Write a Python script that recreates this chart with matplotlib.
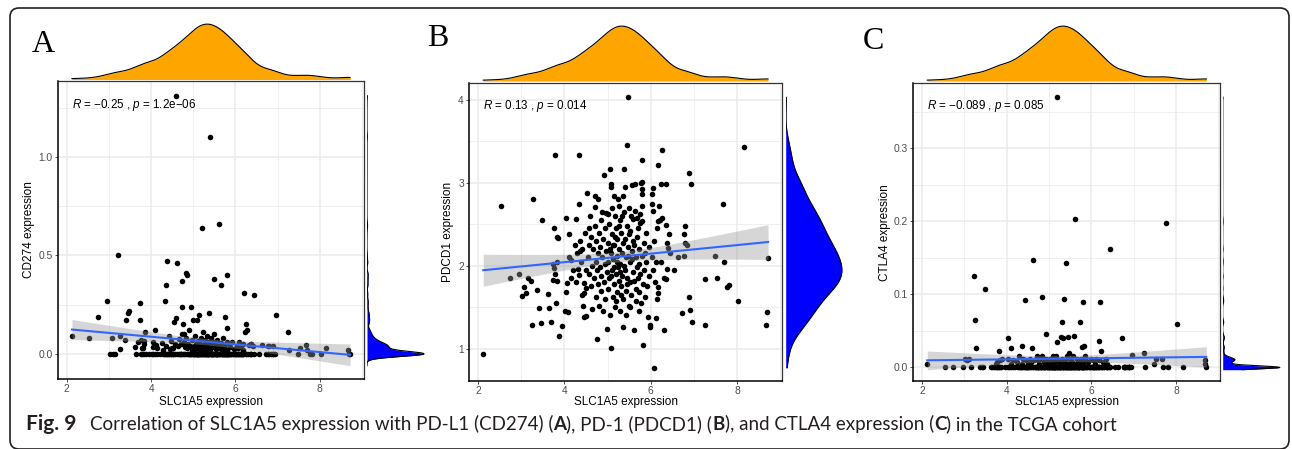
import numpy as np
import matplotlib.pyplot as plt
from matplotlib.patches import FancyBboxPatch

plt.rcParams['font.family'] = 'Liberation Sans'
plt.rcParams['mathtext.fontset'] = 'custom'
plt.rcParams['mathtext.it'] = 'Liberation Sans:italic'
plt.rcParams['mathtext.rm'] = 'Liberation Sans'

W, H = 1292, 449

# SLC1A5 expression (shared x for the three panels)
slc1a5 = [
    2.12, 2.53, 2.74, 2.96, 3.02, 3.06, 3.10, 3.15, 3.22, 3.25,
    3.27, 3.37, 3.41, 3.45, 3.48, 3.62, 3.65, 3.69, 3.73, 3.74,
    3.77, 3.77, 3.78, 3.79, 3.81, 3.82, 3.83, 3.84, 3.86, 3.88,
    3.95, 4.02, 4.04, 4.05, 4.04, 4.09, 4.10, 4.11, 4.15, 4.15,
    4.20, 4.25, 4.27, 4.28, 4.30, 4.32, 4.34, 4.35, 4.35, 4.36,
    4.37, 4.38, 4.40, 4.42, 4.43, 4.45, 4.46, 4.46, 4.48, 4.49,
    4.51, 4.51, 4.53, 4.55, 4.56, 4.57, 4.58, 4.59, 4.61, 4.62,
    4.63, 4.65, 4.66, 4.68, 4.70, 4.71, 4.72, 4.73, 4.74, 4.74,
    4.75, 4.76, 4.77, 4.78, 4.79, 4.80, 4.81, 4.82, 4.83, 4.84,
    4.85, 4.86, 4.87, 4.88, 4.89, 4.90, 4.91, 4.92, 4.93, 4.94,
    4.95, 4.96, 4.97, 4.98, 4.99, 5.00, 5.01, 5.02, 5.03, 5.04,
    5.05, 5.06, 5.07, 5.08, 5.09, 5.09, 5.10, 5.11, 5.12, 5.13,
    5.14, 5.15, 5.16, 5.17, 5.18, 5.19, 5.20, 5.21, 5.22, 5.23,
    5.24, 5.25, 5.26, 5.27, 5.28, 5.29, 5.30, 5.31, 5.32, 5.33,
    5.34, 5.35, 5.35, 5.36, 5.37, 5.38, 5.39, 5.40, 5.41, 5.42,
    5.43, 5.44, 5.45, 5.46, 5.47, 5.48, 5.49, 5.02, 5.05, 5.08,
    5.11, 5.14, 5.17, 5.20, 5.23, 5.26, 5.29, 5.32, 5.34, 5.38,
    5.41, 5.44, 5.47, 5.49, 5.12, 5.27, 5.43, 5.50, 5.51, 5.52,
    5.53, 5.54, 5.55, 5.56, 5.57, 5.58, 5.59, 5.60, 5.61, 5.62,
    5.63, 5.64, 5.65, 5.66, 5.67, 5.68, 5.69, 5.70, 5.71, 5.72,
    5.73, 5.74, 5.75, 5.76, 5.76, 5.77, 5.78, 5.79, 5.80, 5.80,
    5.81, 5.81, 5.81, 5.81, 5.82, 5.83, 5.84, 5.85, 5.87, 5.88,
    5.90, 5.92, 5.94, 5.95, 5.97, 5.99, 5.99, 5.56, 5.62, 5.68,
    5.72, 5.86, 5.53, 6.02, 6.03, 6.03, 6.05, 6.06, 6.06, 6.08,
    6.08, 6.10, 6.12, 6.12, 6.14, 6.15, 6.17, 6.18, 6.18, 6.18,
    6.20, 6.22, 6.24, 6.25, 6.26, 6.27, 6.30, 6.31, 6.35, 6.36,
    6.36, 6.37, 6.38, 6.41, 6.43, 6.45, 6.55, 6.64, 6.72, 6.78,
    6.78, 6.80, 6.80, 6.84, 6.88, 6.89, 6.90, 6.93, 6.96, 7.25,
    7.26, 7.48, 7.54, 7.67, 7.69, 7.77, 7.82, 8.02, 8.16, 8.68,
    8.70, 8.72,
]

# PDCD1 expression (panel B)
pdcd1 = [
    0.93, 2.72, 1.85, 1.90, 1.63, 1.74, 1.67, 1.85, 1.81, 1.28,
    2.81, 1.71, 1.49, 1.31, 2.55, 1.66, 1.49, 1.32, 2.02, 1.83,
    1.97, 2.46, 1.90, 3.33, 1.55, 1.82, 2.35, 2.04, 2.33, 1.15,
    1.27, 1.45, 1.68, 1.79, 2.57, 1.44, 2.38, 2.11, 2.07, 1.85,
    1.95, 2.25, 2.56, 1.80, 2.15, 1.96, 1.89, 3.34, 2.74, 2.18,
    2.30, 2.05, 1.65, 2.20, 1.51, 1.79, 1.67, 1.38, 2.40, 1.95,
    1.73, 1.39, 2.88, 2.10, 2.45, 1.90, 2.25, 2.60, 2.35, 1.75,
    2.00, 1.48, 2.20, 1.85, 2.84, 2.48, 2.71, 1.62, 2.05, 2.30,
    1.12, 1.95, 2.15, 1.78, 2.80, 1.52, 2.40, 1.98, 2.22, 1.70,
    2.55, 1.88, 2.10, 2.65, 1.45, 2.32, 3.09, 1.80, 2.02, 2.45,
    1.60, 2.18, 2.64, 1.24, 1.92, 2.28, 1.72, 2.05, 2.50, 1.85,
    1.40, 3.17, 1.01, 2.15, 2.98, 2.95, 1.95, 2.38, 1.62, 2.08,
    2.84, 1.78, 2.25, 1.50, 2.60, 1.90, 2.45, 2.12, 1.68, 2.32,
    1.98, 2.81, 1.82, 2.20, 1.45, 2.55, 2.02, 1.75, 2.40, 1.88,
    2.15, 2.84, 1.26, 2.28, 1.60, 2.65, 3.17, 2.95, 1.95, 2.10,
    1.70, 2.48, 1.85, 3.46, 4.03, 2.22, 1.52, 2.62, 2.20, 1.88,
    2.70, 1.98, 2.35, 1.58, 2.05, 2.48, 1.92, 1.65, 2.60, 2.00,
    2.32, 1.78, 2.12, 2.70, 2.25, 2.72, 1.40, 2.38, 1.80, 2.05,
    2.42, 1.65, 2.60, 2.97, 2.18, 1.92, 2.30, 2.56, 2.25, 1.22,
    2.98, 2.66, 1.72, 2.10, 1.58, 2.35, 1.98, 1.85, 2.45, 2.02,
    1.68, 2.20, 1.90, 2.62, 2.52, 3.00, 1.55, 2.12, 2.92, 2.87,
    3.27, 2.72, 2.54, 3.01, 1.78, 1.04, 2.28, 1.95, 1.62, 2.40,
    2.05, 1.75, 1.38, 2.22, 1.88, 1.26, 1.28, 2.08, 1.82, 2.58,
    1.45, 2.15, 1.50, 2.10, 2.87, 2.75, 1.95, 2.94, 2.66, 0.77,
    2.30, 1.80, 1.37, 2.05, 2.45, 1.60, 3.22, 2.54, 1.74, 1.67,
    2.72, 2.55, 2.99, 2.05, 3.39, 2.58, 1.85, 1.23, 1.84, 2.49,
    2.99, 2.27, 1.96, 2.21, 2.38, 2.15, 1.95, 2.11, 1.43, 2.12,
    2.38, 2.27, 2.48, 2.25, 1.62, 3.12, 1.47, 2.99, 1.32, 1.29,
    1.84, 2.12, 1.85, 2.75, 2.04, 1.74, 1.77, 1.57, 3.43, 1.28,
    1.44, 2.09,
]

# CD274 expression (panel A)
cd274 = [
    0.09, 0.08, 0.19, 0.27, 0.0, 0.08, 0.0, 0.0, 0.50, 0.025,
    0.09, 0.07, 0.17, 0.21, 0.22, 0.037, 0.0, 0.062, 0.26, 0.17,
    0.07, 0.0, 0.029, 0.0, 0.029, 0.067, 0.05, 0.0, 0.11, 0.0,
    0.0, 0.0, 0.035, 0.0, 0.06, 0.12, 0.0, 0.045, 0.0, 0.03,
    0.0, 0.055, 0.0, 0.02, 0.0, 0.27, 0.0, 0.04, 0.0, 0.35,
    0.0, 0.47, 0.0, 0.09, 0.0, 0.025, 0.0, 0.065, 0.0, 0.03,
    0.0, 0.03, 0.0, 0.16, 0.0, 0.05, 0.18, 1.31, 0.46, 0.0,
    0.04, 0.0, 0.075, 0.0, 0.0, 0.05, 0.0, 0.10, 0.37, 0.24,
    0.15, 0.0, 0.06, 0.10, 0.0, 0.035, 0.0, 0.08, 0.41, 0.0,
    0.03, 0.40, 0.0, 0.05, 0.0, 0.12, 0.0, 0.04, 0.0, 0.24,
    0.0, 0.07, 0.0, 0.02, 0.0, 0.17, 0.0, 0.04, 0.0, 0.09,
    0.0, 0.05, 0.0, 0.17, 0.0, 0.03, 0.0, 0.065, 0.0, 0.20,
    0.0, 0.045, 0.0, 0.02, 0.0, 0.08, 0.64, 0.0, 0.035, 0.0,
    0.11, 0.0, 0.05, 0.0, 0.07, 0.0, 0.03, 0.0, 0.09, 0.0,
    0.04, 0.0, 0.0, 0.06, 0.21, 0.0, 0.02, 1.10, 0.0, 0.08,
    0.0, 0.035, 0.0, 0.05, 0.0, 0.10, 0.0, 0.0, 0.025, 0.0,
    0.0, 0.055, 0.0, 0.0, 0.04, 0.0, 0.0, 0.025, 0.0, 0.0,
    0.045, 0.0, 0.0, 0.06, 0.0, 0.02, 0.0, 0.38, 0.0, 0.05,
    0.0, 0.025, 0.0, 0.0, 0.07, 0.0, 0.04, 0.0, 0.66, 0.0,
    0.03, 0.0, 0.055, 0.35, 0.0, 0.02, 0.0, 0.08, 0.0, 0.0,
    0.045, 0.0, 0.19, 0.0, 0.03, 0.0, 0.0, 0.06, 0.0, 0.0,
    0.40, 0.13, 0.0, 0.02, 0.0, 0.0, 0.05, 0.0, 0.0, 0.035,
    0.0, 0.06, 0.0, 0.0, 0.025, 0.0, 0.0, 0.0, 0.04, 0.0,
    0.0, 0.0, 0.0, 0.0, 0.04, 0.0, 0.0, 0.03, 0.0, 0.0,
    0.06, 0.0, 0.0, 0.035, 0.0, 0.0, 0.02, 0.0, 0.05, 0.0,
    0.31, 0.11, 0.0, 0.0, 0.15, 0.12, 0.0, 0.045, 0.0, 0.05,
    0.0, 0.05, 0.0, 0.04, 0.30, 0.0, 0.0, 0.045, 0.0, 0.04,
    0.0, 0.04, 0.0, 0.0, 0.04, 0.0, 0.0, 0.0, 0.20, 0.11,
    0.02, 0.0, 0.03, 0.045, 0.02, 0.0, 0.0, 0.0, 0.03, 0.02,
    0.0, 0.0,
]

# CTLA4 expression (panel C)
ctla4 = [
    0.005, 0.0, 0.0, 0.0, 0.012, 0.010, 0.012, 0.0, 0.125, 0.065,
    0.027, 0.0, 0.0, 0.0, 0.108, 0.0, 0.0, 0.0, 0.0, 0.005,
    0.0, 0.0, 0.008, 0.0, 0.022, 0.0, 0.010, 0.0, 0.0, 0.012,
    0.0, 0.012, 0.040, 0.0, 0.0, 0.005, 0.027, 0.0, 0.010, 0.0,
    0.0, 0.008, 0.0, 0.0, 0.015, 0.0, 0.0, 0.0, 0.005, 0.0,
    0.030, 0.012, 0.0, 0.0, 0.092, 0.0, 0.0, 0.010, 0.0, 0.0,
    0.0, 0.005, 0.0, 0.012, 0.0, 0.0, 0.008, 0.026, 0.147, 0.0,
    0.0, 0.010, 0.0, 0.0, 0.0, 0.015, 0.0, 0.0, 0.010, 0.0,
    0.0, 0.005, 0.0, 0.0, 0.012, 0.0, 0.0, 0.0, 0.015, 0.096,
    0.0, 0.0, 0.008, 0.0, 0.0, 0.0, 0.0, 0.012, 0.046, 0.0,
    0.0, 0.005, 0.0, 0.0, 0.010, 0.0, 0.0, 0.012, 0.0, 0.0,
    0.005, 0.0, 0.0, 0.010, 0.0, 0.0, 0.015, 0.0, 0.0, 0.008,
    0.0, 0.0, 0.012, 0.0, 0.0, 0.035, 0.370, 0.0, 0.0, 0.010,
    0.0, 0.0, 0.005, 0.0, 0.041, 0.0, 0.012, 0.062, 0.0, 0.0,
    0.040, 0.0, 0.008, 0.094, 0.0, 0.010, 0.0, 0.143, 0.0, 0.015,
    0.0, 0.0, 0.005, 0.042, 0.0, 0.0, 0.012, 0.0, 0.0, 0.010,
    0.0, 0.0, 0.015, 0.0, 0.0, 0.008, 0.0, 0.0, 0.0, 0.010,
    0.0, 0.0, 0.020, 0.0, 0.0, 0.0, 0.0, 0.0, 0.010, 0.0,
    0.0, 0.008, 0.0, 0.0, 0.015, 0.043, 0.0, 0.0, 0.203, 0.0,
    0.005, 0.0, 0.0, 0.012, 0.0, 0.0, 0.010, 0.0, 0.0, 0.0,
    0.005, 0.062, 0.0, 0.0, 0.012, 0.0, 0.0, 0.028, 0.0, 0.0,
    0.090, 0.0, 0.005, 0.0, 0.030, 0.0, 0.0, 0.010, 0.0, 0.0,
    0.0, 0.008, 0.0, 0.0, 0.0, 0.0, 0.012, 0.0, 0.0, 0.0,
    0.0, 0.015, 0.0, 0.0, 0.0, 0.010, 0.0, 0.0, 0.0, 0.005,
    0.0, 0.0, 0.012, 0.0, 0.0, 0.0, 0.036, 0.0, 0.0, 0.010,
    0.089, 0.023, 0.0, 0.0, 0.0, 0.008, 0.0, 0.0, 0.012, 0.0,
    0.0, 0.0, 0.005, 0.0, 0.162, 0.0, 0.0, 0.0, 0.040, 0.0,
    0.0, 0.0, 0.0, 0.0, 0.0, 0.0, 0.0, 0.0, 0.017, 0.020,
    0.0, 0.005, 0.012, 0.012, 0.0, 0.198, 0.0, 0.060, 0.0, 0.010,
    0.005, 0.0,
]

assert len(slc1a5) == len(pdcd1) == len(cd274) == len(ctla4)

x = np.array(slc1a5)


def kde(v, grid):
    # gaussian density with R's bw.nrd0 like ggplot's geom_density
    v = np.asarray(v)
    n = len(v)
    sd = v.std(ddof=1)
    iqr = np.subtract(*np.percentile(v, [75, 25]))
    lo = min(sd, iqr / 1.34) if iqr > 0 else sd
    bw = 0.9 * lo * n ** -0.2
    z = (grid[:, None] - v[None, :]) / bw
    return np.exp(-0.5 * z ** 2).sum(1) / (n * bw * np.sqrt(2 * np.pi))


def rect(l, t, r, b):
    return [l / W, 1 - b / H, (r - l) / W, (b - t) / H]


fig = plt.figure(figsize=(W / 100, H / 100), dpi=100)

bg = fig.add_axes([0, 0, 1, 1], zorder=-1)
bg.set_xlim(0, W)
bg.set_ylim(H, 0)
bg.axis('off')
bg.add_patch(FancyBboxPatch((10, 8), 1279, 441, boxstyle='round,pad=0,rounding_size=9',
                            fc='white', ec='#231f20', lw=1.2))

panels = [
    dict(y=cd274, ylab='CD274 expression', letter='A', letter_xy=(32, 51.5),
         stat=r'$R$ = −0.25 , $p$ = 1.2e−06',
         box=(58, 81, 364, 379), top=(23, 79.5), right=(367, 425),
         ylim=(-0.127, 1.385), yt=[0, 0.5, 1.0], ym=[0.25, 0.75, 1.25],
         ylabs=['0.0', '0.5', '1.0'], ylab_x=29),
    dict(y=pdcd1, ylab='PDCD1 expression', letter='B', letter_xy=(427, 45.5),
         stat=r'$R$ = 0.13 , $p$ = 0.014',
         box=(469, 83.3, 782.3, 381), top=(25, 81), right=(785.7, 843),
         ylim=(0.61, 4.20), yt=[1, 2, 3, 4], ym=[1.5, 2.5, 3.5],
         ylabs=['1', '2', '3', '4'], ylab_x=448),
    dict(y=ctla4, ylab='CTLA4 expression', letter='C', letter_xy=(863, 49),
         stat=r'$R$ = −0.089 , $p$ = 0.085',
         box=(913.3, 83.3, 1220.3, 381.3), top=(25, 81), right=(1222.7, 1281),
         ylim=(-0.019, 0.389), yt=[0, 0.1, 0.2, 0.3], ym=[0.05, 0.15, 0.25, 0.35],
         ylabs=['0.0', '0.1', '0.2', '0.3'], ylab_x=885),
]

for p in panels:
    l, t, r, b = p['box']
    y = np.array(p['y'])
    ax = fig.add_axes(rect(l, t, r, b))
    ax.set_xlim(1.79, 9.05)
    ax.set_ylim(*p['ylim'])
    ax.set_axisbelow(True)

    ax.scatter(x, y, s=16, c='black', lw=0, zorder=2)

    # linear fit with 95% band (geom_smooth(method = "lm"))
    n = len(x)
    b1, b0 = np.polyfit(x, y, 1)
    xs = np.linspace(x.min(), x.max(), 100)
    fit = b0 + b1 * xs
    res = y - (b0 + b1 * x)
    s = np.sqrt((res ** 2).sum() / (n - 2))
    sxx = ((x - x.mean()) ** 2).sum()
    se = s * np.sqrt(1 / n + (xs - x.mean()) ** 2 / sxx)
    lower, upper = fit - 1.97 * se, fit + 1.97 * se
    ax.fill_between(xs, lower, upper, color='#999999', alpha=0.4, lw=0, zorder=3)
    ax.plot(xs, fit, color='#3366FF', lw=1.5, zorder=4)

    ax.set_xticks([2, 4, 6, 8])
    ax.set_xticklabels(['2', '4', '6', '8'])
    ax.set_xticks([3, 5, 7, 9], minor=True)
    ax.set_yticks(p['yt'])
    ax.set_yticklabels(p['ylabs'])
    ax.set_yticks(p['ym'], minor=True)
    ax.grid(which='major', color='#EBEBEB', lw=1.1)
    ax.grid(which='minor', color='#EBEBEB', lw=0.55)
    ax.tick_params(which='major', length=2.2, width=0.6, color='#333333',
                   labelsize=7.4, labelcolor='#4D4D4D', pad=1.5)
    ax.tick_params(which='minor', length=0)
    for side in ['top', 'right']:
        ax.spines[side].set_color('#333333')
        ax.spines[side].set_linewidth(0.9)
    for side in ['left', 'bottom']:
        ax.spines[side].set_color('black')
        ax.spines[side].set_linewidth(1.1)

    ax.annotate(p['stat'], xy=(x.min(), y.max()), xytext=(0, -9),
                textcoords='offset pixels', ha='left', va='center', fontsize=8.4,
                color='black', zorder=5)

    # marginal density on top
    gx = np.linspace(x.min(), x.max(), 400)
    dx = kde(x, gx)
    axt = fig.add_axes(rect(l, p['top'][0], r, p['top'][1]))
    axt.fill_between(gx, 0, dx, color='#FFA500', lw=0)
    axt.plot(gx, dx, color='black', lw=0.8)
    axt.set_xlim(1.79, 9.05)
    axt.set_ylim(0, dx.max() * 1.02)
    axt.axis('off')

    # marginal density on the right
    gy = np.linspace(min(y.min(), lower.min()), max(y.max(), upper.max()), 600)
    dy = kde(y, gy)
    axr = fig.add_axes(rect(p['right'][0], t, p['right'][1], b))
    axr.fill_betweenx(gy, 0, dy, color='#0000FF', lw=0)
    axr.plot(dy, gy, color='black', lw=0.8)
    axr.set_ylim(*p['ylim'])
    axr.set_xlim(0, dy.max() * 1.02)
    axr.axis('off')

    bg.text((l + r) / 2, 401.5, 'SLC1A5 expression', ha='center', va='center',
            fontsize=8.5, color='black')
    bg.text(p['ylab_x'], (t + b) / 2, p['ylab'], rotation=90, ha='center', va='center',
            fontsize=8.5, color='black')
    bg.text(p['letter_xy'][0], p['letter_xy'][1], p['letter'], family='Liberation Serif',
            fontsize=23, ha='left', va='baseline', color='black')

# caption
cap_font = 'Lato'
cap_col = '#231f20'
plain = ('Correlation of SLC1A5 expression with PD-L1 (CD274) (A), PD-1 (PDCD1) (B), '
         'and CTLA4 expression (C) in the TCGA cohort')
fig.canvas.draw()
renderer = fig.canvas.get_renderer()
probe = bg.text(0, 0, plain, family=cap_font, fontsize=10)
w10 = probe.get_window_extent(renderer).width
probe.remove()
fs = 10 * 1023 / w10

pieces = [('Correlation of SLC1A5 expression with PD-L1 (CD274) (', 'normal'), ('A', 'bold'),
          ('), PD-1 (PDCD1) (', 'normal'), ('B', 'bold'),
          ('), and CTLA4 expression (', 'normal'), ('C', 'bold'),
          (') in the TCGA cohort', 'normal')]
bg.text(26, 430, 'Fig. 9', family=cap_font, fontweight='bold', fontsize=fs * 1.12,
        ha='left', va='baseline', color=cap_col)
cx = 90
for s_, wt in pieces:
    tt = bg.text(cx, 430, s_, family=cap_font, fontweight=wt, fontsize=fs,
                 ha='left', va='baseline', color=cap_col)
    cx += tt.get_window_extent(renderer).width

fig.savefig('out.png', dpi=100)
